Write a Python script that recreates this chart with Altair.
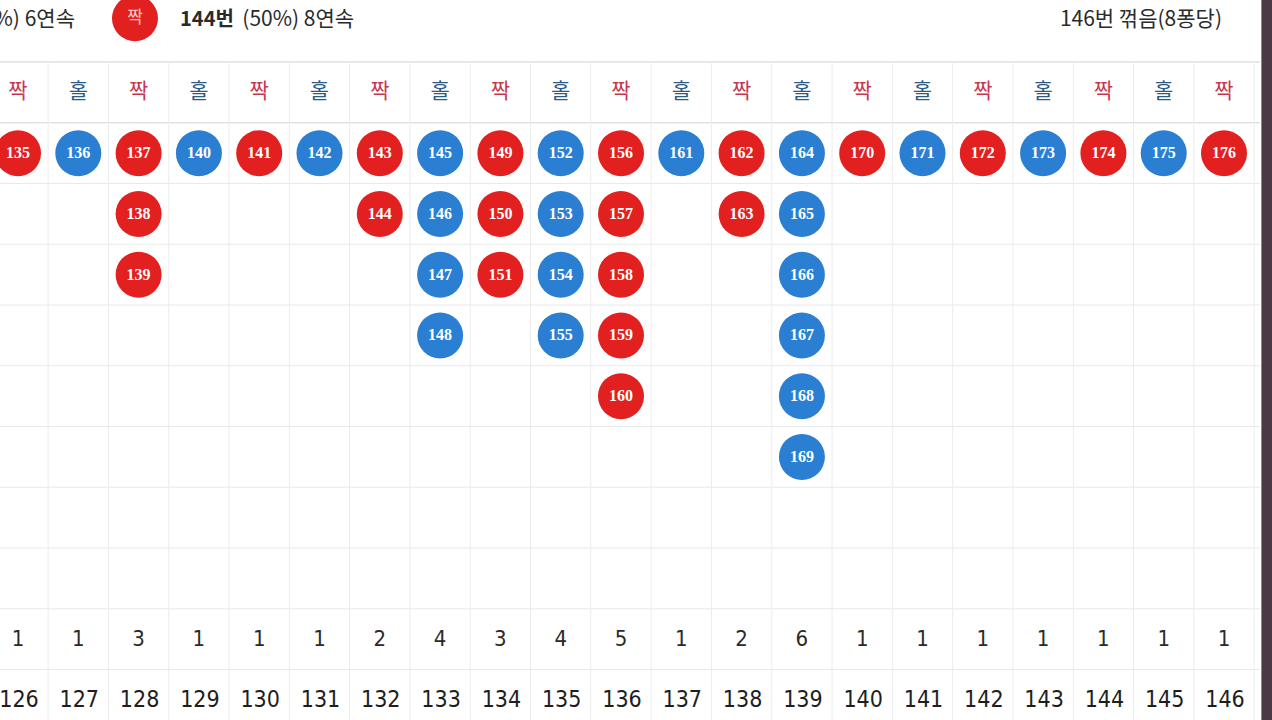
import altair as alt
import pandas as pd

# ---- data ----
rounds = list(range(126, 147))
parity = ["짝", "홀", "짝", "홀", "짝", "홀", "짝", "홀", "짝", "홀", "짝",
          "홀", "짝", "홀", "짝", "홀", "짝", "홀", "짝", "홀", "짝"]
balls = [[135], [136], [137, 138, 139], [140], [141], [142], [143, 144],
         [145, 146, 147, 148], [149, 150, 151], [152, 153, 154, 155],
         [156, 157, 158, 159, 160], [161], [162, 163],
         [164, 165, 166, 167, 168, 169], [170], [171], [172], [173], [174],
         [175], [176]]
counts = [1, 1, 3, 1, 1, 1, 2, 4, 3, 4, 5, 1, 2, 6, 1, 1, 1, 1, 1, 1, 1]
legend_left = "(50%) 6연속"
legend_mid_bold = "144번"
legend_mid = "(50%) 8연속"
legend_right = "146번 꺾음(8퐁당)"

RED = "#e2201f"
BLUE = "#2a7fd3"
BALL_COL = {"짝": RED, "홀": BLUE}
HEAD_COL = {"짝": "#c8354f", "홀": "#2d5a86"}
W, H = 1272, 720

# grid geometry in data units: column index / row index
xs = alt.Scale(domain=[-0.2985, 20.796], nice=False, zero=False)
ys = alt.Scale(domain=[-1.5206, 10.331], nice=False, zero=False, reverse=True)

def X(f):
    return alt.X(f, scale=xs, axis=None)

def Y(f):
    return alt.Y(f, scale=ys, axis=None)

# tables
ball_rows = []
for i, (p, bl) in enumerate(zip(parity, balls)):
    for r, n in enumerate(bl):
        ball_rows.append({"c": i, "r": r + 1, "n": str(n), "col": BALL_COL[p]})
ball_df = pd.DataFrame(ball_rows)

head_df = pd.DataFrame({"c": range(len(rounds)), "r": 0, "p": parity,
                        "col": [HEAD_COL[p] for p in parity]})
count_df = pd.DataFrame({"c": range(len(rounds)), "r": 9, "t": [str(v) for v in counts]})
label_df = pd.DataFrame({"c": range(len(rounds)), "r": 10, "t": [str(v) for v in rounds]})

hline_df = pd.DataFrame({"yb": [k - 0.5 for k in range(0, 12)],
                         "col": ["#cfcfcf", "#d4d4d4"] + ["#e9e9e9"] * 10})
vline_df = pd.DataFrame({"xb": [k + 0.5 for k in range(0, 21)],
                         "y1": -0.5, "y2": 10.5})
strip_df = pd.DataFrame({"x1": [20.62], "x2": [20.796], "y1": [-1.5206], "y2": [10.331]})

NARROW = "Liberation Sans Narrow, Arial Narrow, DejaVu Sans Condensed, sans-serif"

hlines = alt.Chart(hline_df).mark_rule(strokeWidth=1.2).encode(
    y=Y("yb:Q"), x=alt.value(0), x2=alt.value(1260),
    color=alt.Color("col:N", scale=None))
vlines = alt.Chart(vline_df).mark_rule(color="#ececec", strokeWidth=1).encode(
    x=X("xb:Q"), y=Y("y1:Q"), y2="y2:Q")
strip = alt.Chart(strip_df).mark_rect(color="#4b3a46").encode(
    x=X("x1:Q"), x2="x2:Q", y=Y("y1:Q"), y2="y2:Q")

head = alt.Chart(head_df).mark_text(font="Noto Sans CJK KR", fontSize=21, baseline="middle").encode(
    x=X("c:Q"), y=Y("r:Q"), text="p:N", color=alt.Color("col:N", scale=None))

circles = alt.Chart(ball_df).mark_circle(size=2116, opacity=1).encode(
    x=X("c:Q"), y=Y("r:Q"), color=alt.Color("col:N", scale=None))
nums = alt.Chart(ball_df).mark_text(color="white", font="Liberation Serif", fontSize=16,
                                    fontWeight="bold", baseline="middle").encode(
    x=X("c:Q"), y=Y("r:Q"), text="n:N")

cnt = alt.Chart(count_df).mark_text(color="#2a2a2a", fontSize=22, baseline="middle",
                                    font=NARROW).encode(
    x=X("c:Q"), y=Y("r:Q"), text="t:N")
lab = alt.Chart(label_df).mark_text(color="#1e1e1e", fontSize=23, baseline="middle",
                                    font=NARROW, dx=1).encode(
    x=X("c:Q"), y=Y("r:Q"), text="t:N")

LY = -1.19
leg_txt_df = pd.DataFrame([
    {"x": 0.945, "y": LY, "t": legend_left, "a": "right", "w": "normal"},
    {"x": 2.687, "y": LY, "t": legend_mid_bold, "a": "left", "w": "bold"},
    {"x": 3.72, "y": LY, "t": legend_mid, "a": "left", "w": "normal"},
    {"x": 19.967, "y": LY, "t": legend_right, "a": "right", "w": "normal"},
])
leg_right = alt.Chart(leg_txt_df[leg_txt_df.a == "right"]).mark_text(
    font="Noto Sans CJK KR", fontSize=21, color="#2a2a2a", align="right", baseline="middle").encode(
    x=X("x:Q"), y=Y("y:Q"), text="t:N")
leg_left_n = alt.Chart(leg_txt_df[(leg_txt_df.a == "left") & (leg_txt_df.w == "normal")]).mark_text(
    font="Noto Sans CJK KR", fontSize=21, color="#2a2a2a", align="left", baseline="middle").encode(
    x=X("x:Q"), y=Y("y:Q"), text="t:N")
leg_left_b = alt.Chart(leg_txt_df[leg_txt_df.w == "bold"]).mark_text(
    font="Noto Sans CJK KR", fontSize=20, fontWeight="bold", color="#2a2a2a", align="left", baseline="middle").encode(
    x=X("x:Q"), y=Y("y:Q"), text="t:N")
leg_ball_df = pd.DataFrame({"x": [1.94], "y": [-1.22], "p": ["짝"], "col": [RED]})
leg_ball = alt.Chart(leg_ball_df).mark_circle(size=2116, opacity=1).encode(
    x=X("x:Q"), y=Y("y:Q"), color=alt.Color("col:N", scale=None))
leg_ball_t = alt.Chart(leg_ball_df).mark_text(font="Noto Sans CJK KR", fontSize=17,
                                              color="#f6c9c9", baseline="middle").encode(
    x=X("x:Q"), y=Y("y:Q"), text="p:N")

chart = alt.layer(hlines, vlines, strip, head, circles, nums, cnt, lab,
                  leg_ball, leg_ball_t, leg_right, leg_left_n, leg_left_b).properties(
    width=W, height=H, padding=0, autosize=alt.AutoSizeParams(type="none"),
    background="white"
).configure_view(stroke=None)

chart.save("out.html", embed_options={"renderer": "svg", "actions": False})
